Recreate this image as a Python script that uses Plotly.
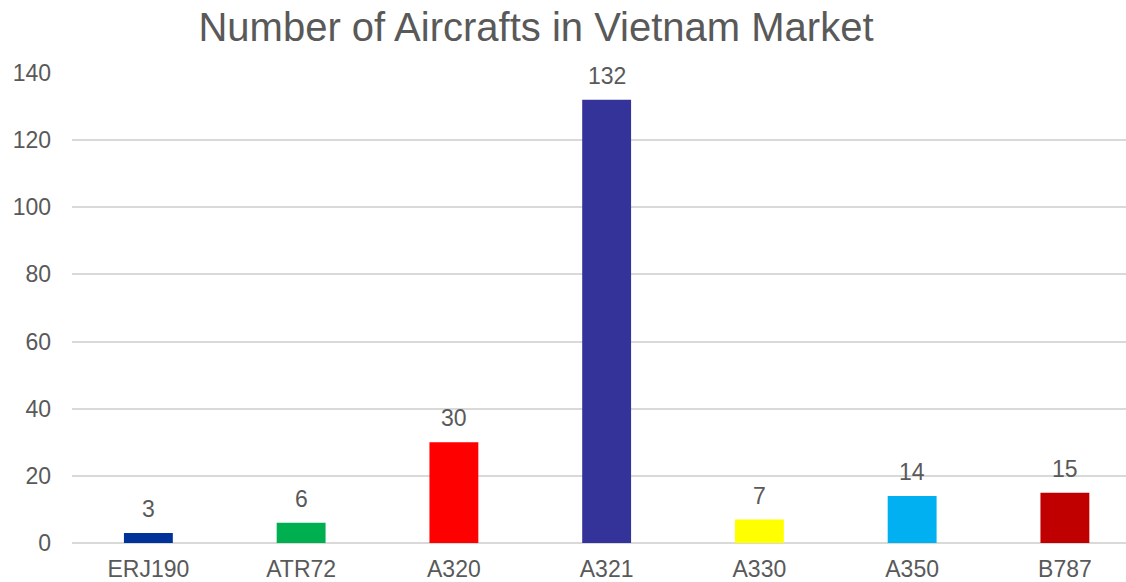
import plotly.graph_objects as go

categories = ["ERJ190", "ATR72", "A320", "A321", "A330", "A350", "B787"]
values = [3, 6, 30, 132, 7, 14, 15]
colors = ["#003399", "#00B050", "#FF0000", "#333399", "#FFFF00", "#00B0F0", "#C00000"]
y_ticks = [0, 20, 40, 60, 80, 100, 120, 140]
title_text = "Number of Aircrafts in Vietnam Market"

FONT = "Liberation Sans, Arial, sans-serif"
GRAY = "#595959"

fig = go.Figure()
fig.add_trace(go.Bar(
    x=categories, y=values, marker_color=colors, width=0.32,
    marker_line_width=0, hoverinfo="x+y",
))

for c, v in zip(categories, values):
    fig.add_annotation(x=c, y=v, text=str(v), showarrow=False,
                       yanchor="bottom", yshift=9,
                       font=dict(family=FONT, size=23, color=GRAY))

fig.update_layout(
    width=1126, height=582,
    margin=dict(l=72, r=0, t=73, b=39, autoexpand=False),
    paper_bgcolor="white", plot_bgcolor="white",
    showlegend=False,
    title=dict(text=title_text, x=536 / 1126, xanchor="center", xref="container",
               y=1 - 27 / 582, yanchor="middle", yref="container",
               font=dict(family=FONT, size=40, color=GRAY)),
    font=dict(family=FONT, color=GRAY),
)
fig.update_xaxes(range=[-0.5, 6.4], showgrid=False, showline=False, ticks="",
                 tickfont=dict(family=FONT, size=23, color=GRAY),
                 ticklabelstandoff=10)
fig.update_yaxes(range=[0, 140], tickvals=y_ticks, showgrid=True,
                 gridcolor="#D9D9D9", gridwidth=1.5, zeroline=True,
                 zerolinecolor="#D9D9D9", zerolinewidth=1.5, showline=False,
                 ticks="", tickfont=dict(family=FONT, size=23, color=GRAY),
                 ticklabelstandoff=20)

fig.write_html("out.html", config={"displayModeBar": False},
               post_script="document.body.style.margin='0';")
